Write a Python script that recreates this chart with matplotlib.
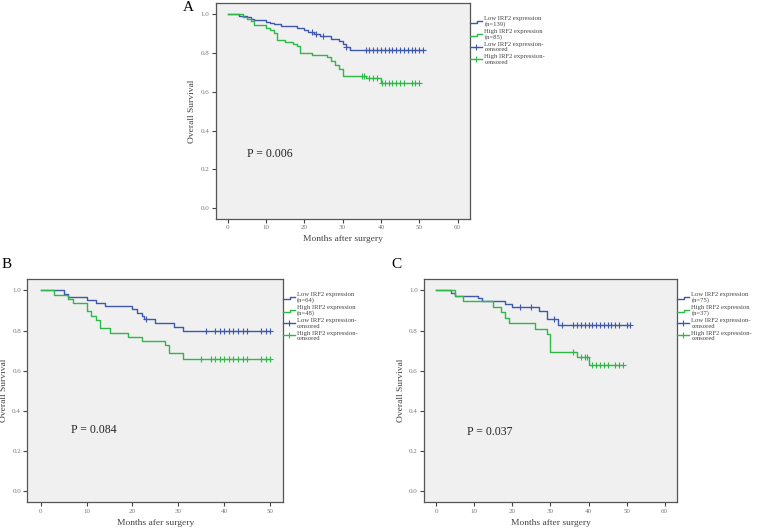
import numpy as np
import matplotlib.pyplot as plt
from matplotlib.lines import Line2D
from matplotlib.legend_handler import HandlerBase

plt.rcParams['font.family'] = ['Liberation Serif', 'DejaVu Serif']

BLUE = '#3e58ac'
GREEN = '#2eb848'
LW = 1.0

# ---- panel A: whole cohort ----
a_low_t = [0, 3, 5, 6, 7, 10, 11, 12, 14, 18, 20, 21, 22.5, 24, 27, 29, 30, 31, 32]
a_low_s = [1, 0.993, 0.985, 0.978, 0.97, 0.963, 0.956, 0.948, 0.94, 0.93, 0.92, 0.91,
           0.897, 0.89, 0.875, 0.86, 0.845, 0.83, 0.815]
a_low_end = 51
a_low_cens = [22, 23, 25, 31, 36, 37, 38, 39, 40, 41, 42, 43, 44, 45, 46, 47, 48, 49, 50, 51]
a_high_t = [0, 4, 5, 6, 7, 10, 11, 12, 13, 15, 17, 18, 19, 22, 26, 27, 28, 29, 30, 36, 40]
a_high_s = [1, 0.988, 0.976, 0.965, 0.943, 0.93, 0.918, 0.906, 0.87, 0.858, 0.847, 0.835,
            0.80, 0.788, 0.78, 0.76, 0.74, 0.72, 0.68, 0.67, 0.645]
a_high_end = 50
a_high_cens = [35, 35.5, 37, 38, 39, 40.2, 41, 42, 43, 44, 45, 46, 48, 49, 50]

# ---- panel B ----
b_low_t = [0, 5, 6, 10, 12, 14, 20, 21, 22, 22.5, 25, 29, 31]
b_low_s = [1, 0.984, 0.969, 0.953, 0.938, 0.922, 0.906, 0.89, 0.875, 0.86, 0.836, 0.82, 0.80]
b_low_end = 50
b_low_cens = [23, 36, 38, 39, 40, 41, 42, 43, 44, 45, 48, 49, 50]
b_high_t = [0, 3, 6, 7, 10, 11, 12, 13, 15, 19, 22, 27, 28, 31]
b_high_s = [1, 0.979, 0.958, 0.9375, 0.896, 0.875, 0.854, 0.812, 0.79, 0.77, 0.75,
            0.729, 0.688, 0.66]
b_high_end = 50
b_high_cens = [35, 37, 38, 39, 40, 41, 42, 43, 44, 45, 48, 49, 50]

# ---- panel C ----
c_low_t = [0, 4, 5, 11, 12, 18, 20, 27, 29, 32]
c_low_s = [1, 0.987, 0.973, 0.96, 0.947, 0.933, 0.92, 0.90, 0.856, 0.827]
c_low_end = 51
c_low_cens = [22, 25, 31, 33, 36, 37, 38, 39, 40, 41, 42, 43, 44, 45, 46, 47, 48, 50, 51]
c_high_t = [0, 5, 7, 15, 17, 18, 19, 26, 29, 30, 37, 40]
c_high_s = [1, 0.973, 0.946, 0.919, 0.892, 0.865, 0.838, 0.81, 0.784, 0.694, 0.667, 0.63]
c_high_end = 49
c_high_cens = [36, 38, 39, 39.5, 41, 42, 43, 44, 45, 47, 48, 49]

yticks = [0.0, 0.2, 0.4, 0.6, 0.8, 1.0]


class StepHandler(HandlerBase):
    def create_artists(self, legend, orig, xd, yd, w, h, fs, trans):
        x = [xd, xd + w * 0.55, xd + w * 0.55, xd + w]
        y = [yd + h * 0.1, yd + h * 0.1, yd + h * 0.6, yd + h * 0.6]
        ln = Line2D(x, y, color=orig.get_color(), lw=LW, transform=trans)
        return [ln]


def km(ax, t, s, end, cens, color):
    t = np.array(t + [end], dtype=float)
    s = np.array(s + [s[-1]], dtype=float)
    ax.step(t, s, where='post', color=color, lw=LW)
    c = np.array(cens, dtype=float)
    idx = np.searchsorted(t, c, side='right') - 1
    ax.plot(c, s[idx], '+', color=color, ms=5, mew=0.8)


def panel(rect, xlim, xticks, low, high, n_low, n_high, ptxt, ppos, xlabel):
    ax = fig.add_axes(rect)
    ax.set_facecolor('#f0f0f0')
    km(ax, *low, BLUE)
    km(ax, *high, GREEN)
    ax.set_xlim(*xlim)
    ax.set_ylim(-0.054, 1.057)
    ax.set_xticks(xticks)
    ax.set_yticks(yticks)
    ax.set_yticklabels([f'{v:.1f}' for v in yticks])
    ax.tick_params(labelsize=5, labelcolor='#777777', color='#444444',
                   length=3, width=0.8, pad=1.5)
    for sp in ax.spines.values():
        sp.set_color('#555555')
        sp.set_linewidth(0.9)
    ax.set_ylabel('Overall Survival', fontsize=6.8, color='#444444', labelpad=3)
    ax.set_xlabel(xlabel, fontsize=6.8, color='#444444', labelpad=4)
    ax.text(ppos[0], ppos[1], ptxt, fontsize=8.5, color='#222222', va='center')
    handles = [Line2D([], [], color=BLUE), Line2D([], [], color=GREEN),
               Line2D([], [], color=BLUE, marker='+', ms=5, mew=0.8, lw=LW),
               Line2D([], [], color=GREEN, marker='+', ms=5, mew=0.8, lw=LW)]
    labels = [f'Low IRF2 expression\n(n={n_low})', f'High IRF2 expression\n(n={n_high})',
              'Low IRF2 expression-\ncensored', 'High IRF2 expression-\ncensored']
    leg = ax.legend(handles, labels, loc='upper left', bbox_to_anchor=(1.0, 0.94),
                    frameon=False, fontsize=4.8, borderpad=0, borderaxespad=0,
                    handlelength=1.8, handletextpad=0.3, labelspacing=0.3,
                    handler_map={handles[0]: StepHandler(), handles[1]: StepHandler()})
    for tx in leg.get_texts():
        tx.set_color('#444444')
        tx.set_linespacing(1.05)
    return ax


fig = plt.figure(figsize=(7.57, 5.29), dpi=100)

panel([0.285, 0.5866, 0.3363, 0.4072], (-3.1, 63.3), [0, 10, 20, 30, 40, 50, 60],
      (a_low_t, a_low_s, a_low_end, a_low_cens),
      (a_high_t, a_high_s, a_high_end, a_high_cens),
      139, 85, 'P = 0.006', (5, 0.278), 'Months after surgery')
panel([0.0361, 0.0505, 0.3378, 0.4221], (-2.9, 52.8), [0, 10, 20, 30, 40, 50],
      (b_low_t, b_low_s, b_low_end, b_low_cens),
      (b_high_t, b_high_s, b_high_end, b_high_cens),
      64, 48, 'P = 0.084', (6.7, 0.305), 'Months afer surgery')
panel([0.5601, 0.0505, 0.3346, 0.4221], (-3.2, 63.3), [0, 10, 20, 30, 40, 50, 60],
      (c_low_t, c_low_s, c_low_end, c_low_cens),
      (c_high_t, c_high_s, c_high_end, c_high_cens),
      75, 37, 'P = 0.037', (8.1, 0.296), 'Months after surgery')

fig.text(183 / 757, 0.998, 'A', fontsize=11, va='top')
fig.text(2 / 757, 1 - 258 / 529, 'B', fontsize=11, va='top')
fig.text(391 / 757, 1 - 258 / 529, 'C', fontsize=11, va='top')

fig.savefig('out.png', dpi=100)
